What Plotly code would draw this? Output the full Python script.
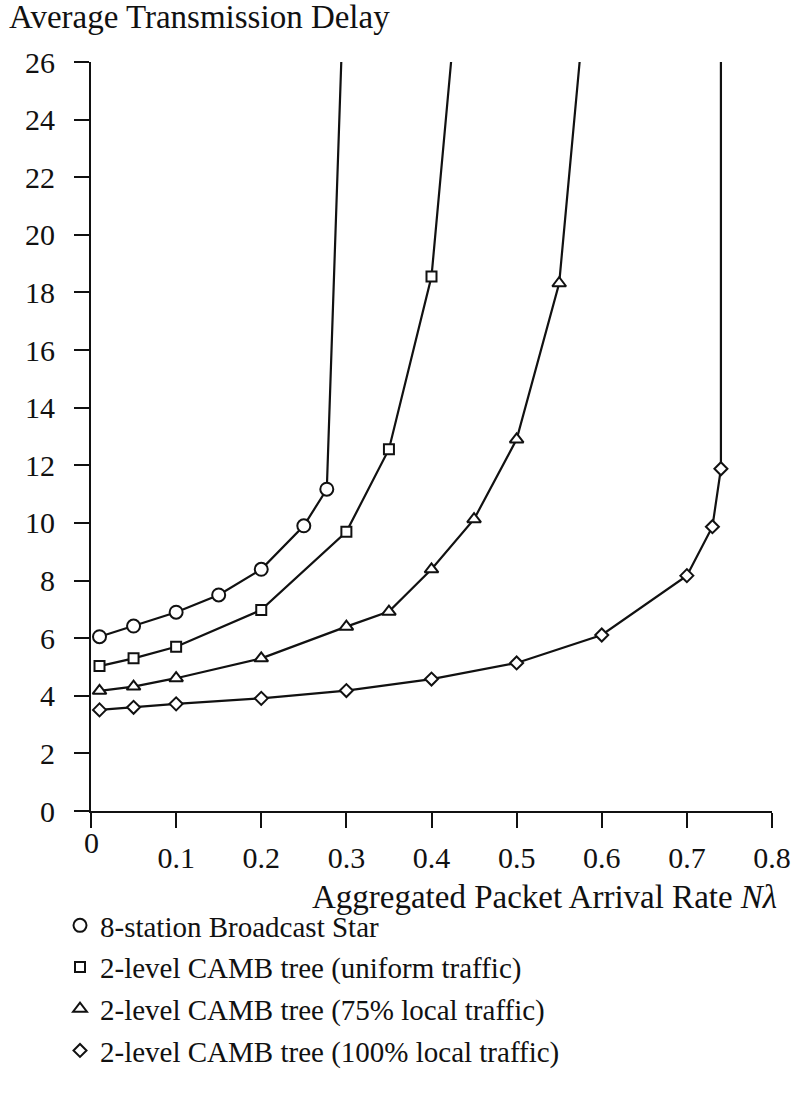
import plotly.graph_objects as go

# ---- data ----
star_x = [0.01, 0.05, 0.10, 0.15, 0.20, 0.25, 0.277]
star_y = [6.05, 6.42, 6.90, 7.50, 8.39, 9.90, 11.17]
star_top = (0.294, 26.0)

uni_x = [0.01, 0.05, 0.10, 0.20, 0.30, 0.35, 0.40]
uni_y = [5.03, 5.30, 5.70, 6.98, 9.69, 12.56, 18.55]
uni_top = (0.423, 26.0)

l75_x = [0.01, 0.05, 0.10, 0.20, 0.30, 0.35, 0.40, 0.45, 0.50, 0.55]
l75_y = [4.17, 4.32, 4.61, 5.30, 6.40, 6.92, 8.39, 10.13, 12.90, 18.32]
l75_top = (0.574, 26.0)

l100_x = [0.01, 0.05, 0.10, 0.20, 0.30, 0.40, 0.50, 0.60, 0.70, 0.73, 0.74]
l100_y = [3.51, 3.60, 3.72, 3.91, 4.18, 4.58, 5.14, 6.11, 8.17, 9.87, 11.88]
l100_top = (0.740, 26.0)

names = [
    "8-station Broadcast Star",
    "2-level CAMB tree (uniform traffic)",
    "2-level CAMB tree (75% local traffic)",
    "2-level CAMB tree (100% local traffic)",
]
symbols = ["circle", "square", "triangle-up", "diamond"]
msizes = [13, 10, 12, 10]

x_ticks = [0, 0.1, 0.2, 0.3, 0.4, 0.5, 0.6, 0.7, 0.8]
x_ticktext = ["", "0.1", "0.2", "0.3", "0.4", "0.5", "0.6", "0.7", "0.8"]
y_ticks = list(range(0, 27, 2))

FONT = "Liberation Serif, Times New Roman, serif"
INK = "#111111"

series = [
    (star_x, star_y, star_top),
    (uni_x, uni_y, uni_top),
    (l75_x, l75_y, l75_top),
    (l100_x, l100_y, l100_top),
]

fig = go.Figure()
for i, (xs, ys, top) in enumerate(series):
    fig.add_trace(go.Scatter(
        x=xs + [top[0]], y=ys + [top[1]], mode="lines",
        line=dict(color=INK, width=2.2), showlegend=False, hoverinfo="skip",
    ))
for i, (xs, ys, top) in enumerate(series):
    fig.add_trace(go.Scatter(
        x=xs, y=ys, mode="markers", name=names[i], legendgroup=f"g{i}",
        marker=dict(symbol=symbols[i], size=msizes[i],
                    color="white", line=dict(color=INK, width=2)),
    ))

fig.update_layout(
    width=797, height=1094,
    margin=dict(l=91, r=25, t=62, b=283, autoexpand=False),
    paper_bgcolor="white", plot_bgcolor="white",
    font=dict(family=FONT, color=INK, size=29),
    showlegend=True,
    legend=dict(
        x=(60 - 91) / 681, xanchor="left",
        y=(811 - 900) / 749, yanchor="top",
        font=dict(family=FONT, size=29, color=INK),
        tracegroupgap=1, itemwidth=30, bgcolor="rgba(0,0,0,0)",
    ),
    xaxis=dict(
        range=[0, 0.8], tickvals=x_ticks, ticktext=x_ticktext,
        showline=True, linecolor=INK, linewidth=2,
        ticks="outside", ticklen=15, tickwidth=2, tickcolor=INK,
        showgrid=False, zeroline=False,
        tickfont=dict(family=FONT, size=30, color=INK),
        ticklabelstandoff=4,
    ),
    yaxis=dict(
        range=[0, 26], tickvals=y_ticks,
        showline=True, linecolor=INK, linewidth=2,
        ticks="outside", ticklen=15, tickwidth=2, tickcolor=INK,
        showgrid=False, zeroline=False,
        tickfont=dict(family=FONT, size=30, color=INK),
        ticklabelstandoff=13,
    ),
    annotations=[
        dict(text="Average Transmission Delay", xref="paper", yref="paper",
             x=0, y=1, xanchor="left", yanchor="middle", xshift=-84, yshift=45,
             showarrow=False, font=dict(family=FONT, size=33, color=INK)),
        dict(text="Aggregated Packet Arrival Rate <i>N\u03bb</i>", xref="paper", yref="paper",
             x=1, y=0, xanchor="right", yanchor="middle", xshift=7, yshift=-86,
             showarrow=False, font=dict(family=FONT, size=33, color=INK)),
        dict(text="0", xref="x", yref="paper", x=0, y=0, xanchor="center",
             yanchor="middle", yshift=-31, showarrow=False,
             font=dict(family=FONT, size=30, color=INK)),
    ],
)

fig.write_html("out.html")
